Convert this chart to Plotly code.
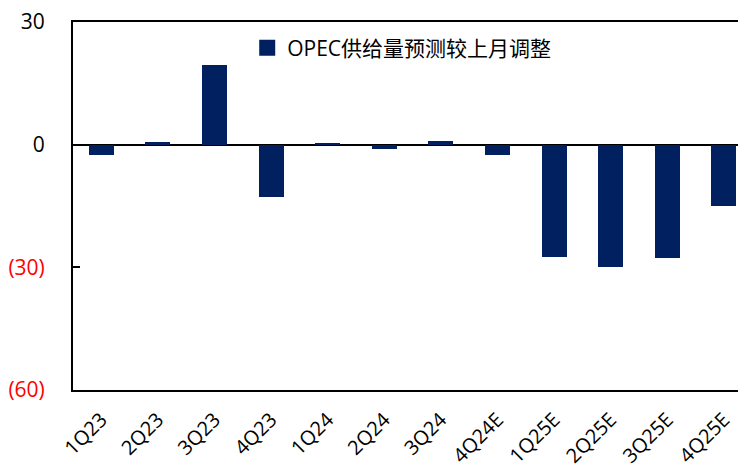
import plotly.graph_objects as go

quarters = ["1Q23", "2Q23", "3Q23", "4Q23", "1Q24", "2Q24", "3Q24", "4Q24E",
            "1Q25E", "2Q25E", "3Q25E", "4Q25E"]
revision = [-2.5, 0.7, 19.6, -12.8, 0.3, -1.0, 0.8, -2.5, -27.5, -30.0, -27.7, -14.9]

tick_vals = [30, 0, -30, -60]
tick_text = ["30", "0", "<span style='color:#FF0000'>(30)</span>",
             "<span style='color:#FF0000'>(60)</span>"]

series_name = "OPEC供给量预测较上月调整"
bar_color = "#002060"
font_main = "Open Sans, Noto Sans CJK SC, sans-serif"

fig = go.Figure()
fig.add_trace(go.Bar(
    x=list(range(len(quarters))),
    y=revision,
    name=series_name,
    marker=dict(color=bar_color, line=dict(width=0)),
    width=0.44,
    showlegend=False,
))
# legend entry only, to get a bigger square swatch like the original
fig.add_trace(go.Scatter(
    x=[None], y=[None],
    mode="markers",
    name=series_name,
    marker=dict(symbol="square", size=17, color=bar_color),
))

fig.update_layout(
    width=738, height=469,
    margin=dict(l=73, r=0, t=22, b=79),
    plot_bgcolor="white",
    paper_bgcolor="white",
    font=dict(family=font_main, size=20, color="black"),
    showlegend=True,
    legend=dict(
        x=0.262, y=0.985, xanchor="left", yanchor="top",
        font=dict(size=21, family=font_main),
        bgcolor="rgba(0,0,0,0)",
        itemsizing="trace",
    ),
    bargap=0,
)

fig.update_xaxes(
    tickmode="array",
    tickvals=list(range(len(quarters))),
    ticktext=quarters,
    tickangle=-45,
    range=[-0.5, 11.25],
    showline=True, linecolor="black", linewidth=2,
    mirror=True,
    showgrid=False, zeroline=False,
    ticks="",
    ticklabelstandoff=8,
    tickfont=dict(size=20),
    automargin=False,
)

fig.update_yaxes(
    range=[-60, 30],
    tickmode="array",
    tickvals=tick_vals,
    ticktext=tick_text,
    showline=True, linecolor="black", linewidth=2,
    showgrid=False,
    zeroline=True, zerolinecolor="black", zerolinewidth=2,
    ticks="inside", ticklen=7, tickcolor="black", tickwidth=2,
    ticklabelstandoff=22,
    tickfont=dict(size=21),
    automargin=False,
)

# page body has a default 8px margin; drop it so the figure sits at 0,0
fig.write_html("out.html", config={"displayModeBar": False},
               post_script="document.body.style.margin='0';")
